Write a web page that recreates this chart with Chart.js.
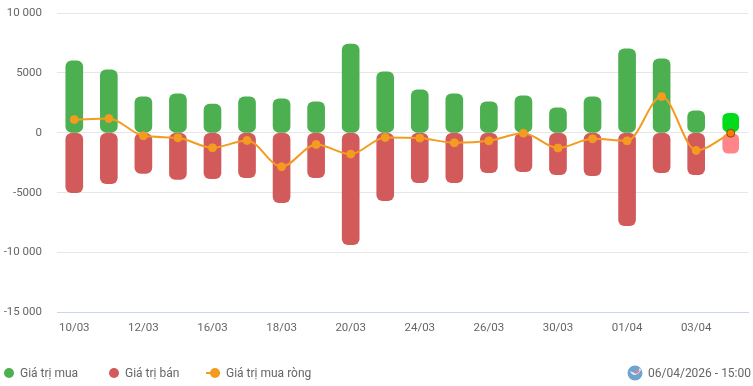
<!DOCTYPE html>
<html>

<head>
    <title>Giao dich</title>
    <script src="https://cdn.jsdelivr.net/npm/chart.js"></script>
    <style>
        html, body {
            margin: 0;
            background: #fff;
            overflow: hidden;
        }
        #wrap {
            position: relative;
            width: 753px;
            height: 386px;
            font-family: Roboto, sans-serif;
            font-size: 12px;
            color: #666;
        }
        .item {
            position: absolute;
            top: 365px;
            line-height: 16px;
            white-space: nowrap;
        }
        .dot {
            position: absolute;
            top: 368px;
            width: 10px;
            height: 10px;
            border-radius: 50%;
        }
    </style>
</head>

<body>
    <div id="wrap">
        <canvas id="myChart" width="753" height="386"></canvas>
        <span class="dot" style="left:4px;background:#4caf50"></span>
        <span class="item" style="left:20px">Giá trị mua</span>
        <span class="dot" style="left:109px;background:#d35a5a"></span>
        <span class="item" style="left:125px">Giá trị bán</span>
        <svg style="position:absolute;left:206px;top:367px" width="18" height="12">
            <line x1="0" y1="6" x2="14" y2="6" stroke="#f39c1f" stroke-width="2"></line>
            <circle cx="9" cy="6" r="5" fill="#f39c1f"></circle>
        </svg>
        <span class="item" style="left:226px">Giá trị mua ròng</span>
        <svg style="position:absolute;left:627px;top:365px" width="16" height="16" viewBox="0 0 16 16">
            <circle cx="8" cy="8" r="7.5" fill="#6fa3d0"></circle>
            <path d="M3 6 Q8 10 13 3 L14 5 Q9 13 4 8 Z" fill="#f0f4f8"></path>
            <path d="M7 7 Q10 8 12 4 L12.5 6 Q10 10 7 8 Z" fill="#e0707a"></path>
        </svg>
        <span class="item" style="left:648px">06/04/2026 - 15:00</span>
    </div>

    <script>
        const categories = ["10/03", "11/03", "12/03", "13/03", "16/03", "17/03", "18/03", "19/03", "20/03", "23/03",
            "24/03", "25/03", "26/03", "27/03", "30/03", "31/03", "01/04", "02/04", "03/04", "06/04"];
        const giaTriMua = [6000, 5250, 3000, 3250, 2400, 3000, 2830, 2580, 7400, 5080,
            3580, 3250, 2580, 3080, 2080, 3000, 7000, 6170, 1830, 1670];
        const giaTriBan = [-5000, -4250, -3400, -3900, -3830, -3750, -5830, -3750, -9330, -5670,
            -4170, -4170, -3330, -3250, -3500, -3580, -7750, -3330, -3500, -1750];
        const giaTriRong = [1100, 1190, -250, -420, -1250, -640, -2830, -975, -1780, -390,
            -440, -830, -670, -30, -1270, -500, -670, 3020, -1470, -30];
        const yTicks = [10000, 5000, 0, -5000, -10000, -15000];
        const yTickLabels = ["10 000", "5000", "0", "-5000", "-10 000", "-15 000"];

        const last = categories.length - 1;
        const isLast = (ctx) => ctx.dataIndex === last;

        new Chart(document.getElementById('myChart').getContext('2d'), {
            type: 'bar',
            data: {
                labels: categories,
                datasets: [
                    {
                        label: 'Giá trị mua ròng',
                        type: 'line',
                        data: giaTriRong,
                        order: 0,
                        borderColor: '#f39c1f',
                        borderWidth: 2,
                        cubicInterpolationMode: 'monotone',
                        pointRadius: 4,
                        pointBackgroundColor: (ctx) => isLast(ctx) ? '#f57c00' : '#f39c1f',
                        pointBorderColor: (ctx) => isLast(ctx) ? '#8a4a10' : '#f39c1f',
                        pointBorderWidth: 1
                    },
                    {
                        label: 'Giá trị mua',
                        data: giaTriMua,
                        order: 1,
                        backgroundColor: (ctx) => isLast(ctx) ? '#00dc1c' : '#4caf50',
                        barThickness: 17,
                        borderRadius: 6,
                        borderSkipped: false,
                        borderWidth: (ctx) => isLast(ctx) ? 0.5 : 0,
                        borderColor: 'transparent'
                    },
                    {
                        label: 'Giá trị bán',
                        data: giaTriBan,
                        order: 1,
                        backgroundColor: (ctx) => isLast(ctx) ? '#ff8588' : '#d35a5a',
                        barThickness: 17,
                        borderRadius: 6,
                        borderSkipped: false,
                        borderWidth: (ctx) => isLast(ctx) ? 0.5 : 0,
                        borderColor: 'transparent'
                    }
                ]
            },
            options: {
                responsive: false,
                animation: false,
                layout: { padding: { top: 13, right: 4, left: 0, bottom: 0 } },
                plugins: {
                    legend: { display: false },
                    tooltip: { enabled: false }
                },
                scales: {
                    x: {
                        stacked: true,
                        afterFit(scale) { scale.height = 73.5; },
                        grid: { display: false },
                        border: { color: '#ccd6eb', width: 1 },
                        ticks: {
                            autoSkip: false,
                            maxRotation: 0,
                            padding: 1,
                            color: '#666',
                            font: { family: 'Roboto', size: 11.5 },
                            callback(value, index) {
                                return index % 2 === 0 ? categories[index] : '';
                            }
                        }
                    },
                    y: {
                        stacked: true,
                        min: -15000,
                        max: 10000,
                        afterFit(scale) { scale.width = 57; },
                        afterBuildTicks(scale) { scale.ticks = yTicks.map((v) => ({ value: v })); },
                        grid: { color: '#e6e6e6', drawTicks: true, tickLength: 15, tickColor: 'rgba(0,0,0,0)' },
                        border: { display: false },
                        ticks: {
                            padding: 0,
                            color: '#666',
                            font: { family: 'Roboto', size: 11.5 },
                            callback(value) {
                                return yTickLabels[yTicks.indexOf(value)];
                            }
                        }
                    }
                }
            }
        });
    </script>
</body>

</html>
